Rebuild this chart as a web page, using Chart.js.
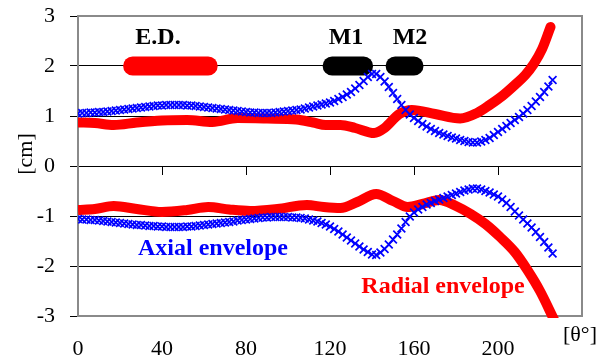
<!DOCTYPE html>
<html><head><meta charset="utf-8">
<script src="https://cdn.jsdelivr.net/npm/chart.js@4.4.1/dist/chart.umd.min.js"></script>
<style>html,body{margin:0;padding:0;background:#fff}#wrap{width:607px;height:363px}</style>
</head><body><div id="wrap"><canvas id="c" width="607" height="363"></canvas></div>
<script>
const xTicks = [0, 40, 80, 120, 160, 200];
const yTicks = [-3, -2, -1, 0, 1, 2, 3];

const blueTheta = [0,2,4,6,8,10,12,14,16,18,20,22,24,26,28,30,32,34,36,38,40,42,44,46,48,50,52,54,56,58,60,62,64,66,68,70,72,74,76,78,80,82,84,86,88,90,92,94,96,98,100,102,104,106,108,110,112,114,116,118,120,122,124,126,128,130,132,134,136,138,140,142,144,146,148,150,152,154,156,158,160,162,164,166,168,170,172,174,176,178,180,182,184,186,188,190,192,194,196,198,200,202,204,206,208,210,212,214,216,218,220,222,224,226];
const axialUpper = [1.05,1.06,1.06,1.07,1.07,1.08,1.08,1.09,1.10,1.11,1.12,1.13,1.14,1.15,1.16,1.17,1.18,1.19,1.20,1.21,1.21,1.22,1.22,1.22,1.22,1.22,1.21,1.21,1.20,1.19,1.18,1.17,1.16,1.15,1.14,1.13,1.12,1.11,1.10,1.09,1.08,1.07,1.07,1.06,1.06,1.06,1.06,1.07,1.08,1.09,1.10,1.11,1.12,1.13,1.15,1.17,1.19,1.21,1.23,1.25,1.27,1.30,1.34,1.38,1.43,1.48,1.55,1.62,1.70,1.78,1.84,1.84,1.78,1.69,1.58,1.46,1.34,1.22,1.12,1.03,0.96,0.90,0.84,0.79,0.74,0.70,0.66,0.63,0.60,0.57,0.55,0.52,0.50,0.48,0.47,0.47,0.49,0.52,0.56,0.62,0.68,0.74,0.80,0.86,0.92,0.98,1.05,1.12,1.20,1.29,1.38,1.48,1.59,1.72];
const axialLower = [-1.06,-1.07,-1.07,-1.08,-1.08,-1.09,-1.10,-1.11,-1.12,-1.13,-1.14,-1.15,-1.16,-1.17,-1.18,-1.18,-1.19,-1.20,-1.20,-1.21,-1.21,-1.22,-1.22,-1.22,-1.22,-1.22,-1.21,-1.21,-1.20,-1.19,-1.18,-1.17,-1.16,-1.15,-1.14,-1.13,-1.12,-1.11,-1.09,-1.08,-1.07,-1.06,-1.05,-1.04,-1.03,-1.03,-1.02,-1.02,-1.02,-1.02,-1.02,-1.03,-1.03,-1.04,-1.05,-1.07,-1.09,-1.11,-1.14,-1.17,-1.21,-1.26,-1.31,-1.37,-1.43,-1.49,-1.55,-1.61,-1.67,-1.72,-1.77,-1.78,-1.73,-1.66,-1.57,-1.47,-1.37,-1.25,-1.12,-1.01,-0.93,-0.87,-0.82,-0.77,-0.74,-0.70,-0.67,-0.64,-0.61,-0.58,-0.55,-0.52,-0.49,-0.47,-0.45,-0.45,-0.47,-0.50,-0.53,-0.57,-0.61,-0.67,-0.74,-0.82,-0.91,-0.99,-1.07,-1.15,-1.23,-1.32,-1.42,-1.52,-1.63,-1.75];

const radialUpperTheta = [0,8,17,28,40,52,64,76,90,104,112,118,125,132,141,146,153,159,170,182,190,196,202,208,213,217,221,225];
const radialUpper = [0.87,0.86,0.82,0.87,0.91,0.92,0.88,0.96,0.95,0.93,0.87,0.82,0.82,0.76,0.66,0.76,1.04,1.12,1.04,0.95,1.06,1.22,1.40,1.62,1.82,2.04,2.34,2.78];
const radialLowerTheta = [0,8,17,28,40,52,62,72,82,95,109,117,125,133,142,150,157,164,172,180,187,194,201,208,214,220,227];
const radialLower = [-0.88,-0.86,-0.80,-0.86,-0.92,-0.88,-0.82,-0.87,-0.90,-0.86,-0.78,-0.82,-0.84,-0.72,-0.56,-0.70,-0.82,-0.76,-0.68,-0.80,-0.96,-1.16,-1.42,-1.72,-2.08,-2.50,-3.10];

const edRange = [26, 62];
const m1Range = [121, 136];
const m2Range = [151, 160];
const markLevel = 2;

const SERIF = "'Liberation Serif','Times New Roman',serif";
const BLUE = '#0000ff', RED = '#ff0000';

const pts = (xs, ys) => xs.map((x, i) => ({x, y: ys[i]}));
const bar = (r, color) => ({
  data: [{x: r[0], y: markLevel}, {x: r[1], y: markLevel}],
  showLine: true, borderColor: color, backgroundColor: color,
  borderWidth: 19, borderCapStyle: 'round', pointRadius: 0
});

const textPlugin = {
  id: 'texts',
  beforeDatasetsDraw(chart) {
    const {ctx, chartArea: a} = chart;
    ctx.save();
    ctx.strokeStyle = '#8a8a8a';
    ctx.lineWidth = 2;
    ctx.strokeRect(a.left, a.top, a.right - a.left, a.bottom - a.top);
    ctx.restore();
  },
  afterDatasetsDraw(chart) {
    const {ctx} = chart;
    ctx.save();
    ctx.textAlign = 'center';
    ctx.textBaseline = 'alphabetic';
    ctx.font = 'bold 24px ' + SERIF;
    ctx.fillStyle = '#000';
    ctx.fillText('E.D.', 158, 44);
    ctx.fillText('M1', 346, 44);
    ctx.fillText('M2', 410, 44);
    ctx.fillStyle = BLUE;
    ctx.fillText('Axial envelope', 213, 255);
    ctx.fillStyle = RED;
    ctx.fillText('Radial envelope', 443, 293);
    ctx.font = '22px ' + SERIF;
    ctx.fillStyle = '#000';
    ctx.textBaseline = 'middle';
    ctx.fillText('[\u03b8\u00b0]', 580, 335);
    ctx.translate(26, 154);
    ctx.rotate(-Math.PI / 2);
    ctx.fillText('[cm]', 0, 0);
    ctx.restore();
  }
};

new Chart(document.getElementById('c'), {
  type: 'scatter',
  data: {
    datasets: [
      {data: pts(blueTheta, axialUpper), pointStyle: 'crossRot', pointRadius: 5.5, pointBorderWidth: 1.7, borderColor: BLUE, backgroundColor: BLUE, showLine: false},
      {data: pts(blueTheta, axialLower), pointStyle: 'crossRot', pointRadius: 5.5, pointBorderWidth: 1.7, borderColor: BLUE, backgroundColor: BLUE, showLine: false},
      {data: pts(radialUpperTheta, radialUpper), showLine: true, borderColor: RED, borderWidth: 10, pointRadius: 0, cubicInterpolationMode: 'monotone', borderCapStyle: 'round', borderJoinStyle: 'round'},
      {data: pts(radialLowerTheta, radialLower), showLine: true, borderColor: RED, borderWidth: 10, pointRadius: 0, cubicInterpolationMode: 'monotone', borderJoinStyle: 'round', clip: {left: 0, top: 0, right: 0, bottom: 2}},
      bar(edRange, RED),
      bar(m1Range, '#000'),
      bar(m2Range, '#000')
    ]
  },
  options: {
    responsive: false, animation: false, devicePixelRatio: 1,
    layout: {padding: {top: 16, right: 25, left: 0, bottom: 0}},
    plugins: {legend: {display: false}, tooltip: {enabled: false}},
    scales: {
      x: {
        type: 'linear', position: 'bottom', min: 0, max: 240,
        afterBuildTicks: s => { s.ticks = xTicks.concat([240]).map(v => ({value: v})); },
        afterFit: s => { s.height = 47; s.paddingLeft = 0; s.paddingRight = 0; },
        ticks: {color: '#000', font: {family: SERIF, size: 22}, padding: 20, maxRotation: 0, autoSkip: false,
          callback: v => xTicks.includes(v) ? String(v) : ''},
        grid: {display: false, drawTicks: false},
        border: {display: false}
      },
      x2: {
        type: 'linear', position: {y: 0}, axis: 'x', min: 0, max: 240,
        afterBuildTicks: s => { s.ticks = xTicks.concat([240]).map(v => ({value: v})); },
        afterFit: s => { s.paddingLeft = 0; s.paddingRight = 0; },
        ticks: {color: 'rgba(0,0,0,0)', callback: () => '', autoSkip: false},
        grid: {drawOnChartArea: false, drawTicks: true, tickLength: 9, tickColor: '#000', color: '#000'},
        border: {display: false}
      },
      y: {
        type: 'linear', position: 'left', min: -3, max: 3,
        afterBuildTicks: s => { s.ticks = yTicks.map(v => ({value: v})); },
        afterFit: s => { s.width = 78; s.paddingTop = 0; s.paddingBottom = 0; },
        ticks: {color: '#000', font: {family: SERIF, size: 22}, padding: 15},
        grid: {color: c => (Math.abs(c.tick.value) === 3 ? '#8a8a8a' : '#000'), lineWidth: 1, tickLength: 8, tickColor: '#000'},
        border: {display: true, color: '#404040', width: 2}
      }
    }
  },
  plugins: [textPlugin]
});
</script></body></html>
